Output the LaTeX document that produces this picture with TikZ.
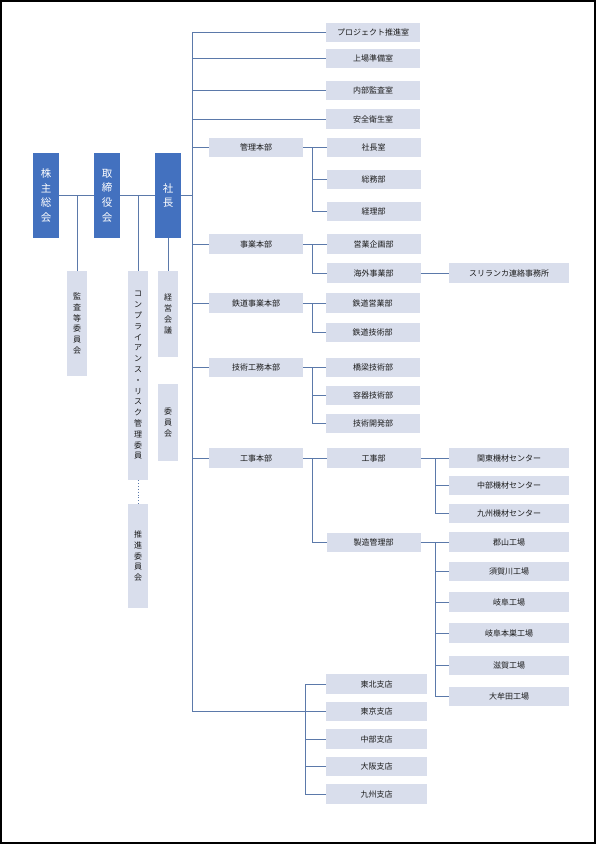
\documentclass[tikz,border=0pt]{standalone}
\usepackage{fontspec}
\newfontfamily\jp{Noto Sans CJK JP}
\definecolor{boxfill}{HTML}{D9DEEC}
\definecolor{topblue}{HTML}{4371BF}
\definecolor{linec}{HTML}{5B79AA}
\definecolor{txt}{HTML}{1A1A1A}
\begin{document}
\begin{tikzpicture}[x=1pt,y=-1pt,
  base/.style={inner sep=0pt, outer sep=0pt, align=center},
  topbox/.style={base, fill=topblue, text=white, minimum width=26pt, minimum height=85pt,
    font={\jp\fontsize{10.5}{14.6}\selectfont}},
  vbox/.style={base, fill=boxfill, text=txt, minimum width=20pt,
    font={\jp\fontsize{8}{10.8}\selectfont}},
  hbox/.style={base, fill=boxfill, text=txt, minimum height=19.5pt,
    font={\jp\fontsize{8}{9}\selectfont}},
  midbox/.style={hbox, minimum width=94pt},
  widebox/.style={hbox, minimum width=120pt},
  shitenbox/.style={hbox, minimum width=101pt},
  conn/.style={draw=linec, line width=0.9pt},
  dotconn/.style={draw=linec, line width=0.9pt, dotted}
]
\useasboundingbox (0,0) rectangle (597,844);
\draw[black, line width=1.5pt] (0.8,0.8) rectangle (595,843);

% top level
\node[topbox] (kabu) at (46,195.5) {株\\主\\総\\会};
\node[topbox] (tori) at (107,195.5) {取\\締\\役\\会};
\node[topbox] (sha) at (168,195.5) {社\\長};

% vertical boxes
\node[vbox, minimum height=105pt] (kansa) at (77,323.5) {監\\査\\等\\委\\員\\会};
\node[vbox, minimum height=209pt] (comp) at (138,375.5) {コ\\ン\\プ\\ラ\\イ\\ア\\ン\\ス\\・\\リ\\ス\\ク\\管\\理\\委\\員};
\node[vbox, minimum height=104pt] (suishin) at (138,556) {推\\進\\委\\員\\会};
\node[vbox, minimum height=86pt] (keiei) at (168,314) {経\\営\\会\\議};
\node[vbox, minimum height=77pt] (iinkai) at (168,422.5) {委\\員\\会};

% offices
\node[midbox] (proj) at (373,32.5) {プロジェクト推進室};
\node[midbox] (jojo) at (373,58.5) {上場準備室};
\node[midbox] (naibu) at (373,90.5) {内部監査室};
\node[midbox] (anzen) at (373,119) {安全衛生室};

% honbu
\node[midbox] (kanri) at (256,147.5) {管理本部};
\node[midbox] (jigyo) at (256,244) {事業本部};
\node[midbox] (tetsudo) at (256,303) {鉄道事業本部};
\node[midbox] (gijutsu) at (256,367.5) {技術工務本部};
\node[midbox] (koji) at (256,458) {工事本部};

% departments
\node[midbox] (shachoshitsu) at (373.5,147.5) {社長室};
\node[midbox] (somu) at (373.5,179.5) {総務部};
\node[midbox] (keiri) at (373.5,211.5) {経理部};
\node[midbox] (eigyo) at (373.5,244) {営業企画部};
\node[midbox] (kaigai) at (373.5,273) {海外事業部};
\node[midbox] (tetsueigyo) at (372.5,303) {鉄道営業部};
\node[midbox] (tetsugijutsu) at (372.5,332.5) {鉄道技術部};
\node[midbox] (kyoryo) at (373,367.5) {橋梁技術部};
\node[midbox] (yoki) at (373,395.5) {容器技術部};
\node[midbox] (kaihatsu) at (373,423.5) {技術開発部};
\node[midbox] (kojibu) at (373.5,458) {工事部};
\node[midbox] (seizo) at (373.5,542.5) {製造管理部};

% right column
\node[widebox] (srilanka) at (509,273) {スリランカ連絡事務所};
\node[widebox] (kanto) at (509,458) {関東機材センター};
\node[widebox] (chubu) at (509,485.5) {中部機材センター};
\node[widebox] (kyushu) at (509,513.5) {九州機材センター};
\node[widebox] (koriyama) at (509,542) {郡山工場};
\node[widebox] (sukagawa) at (509,571.5) {須賀川工場};
\node[widebox] (gifu) at (509,602) {岐阜工場};
\node[widebox] (motosu) at (509,633) {岐阜本巣工場};
\node[widebox] (shiga) at (509,665.5) {滋賀工場};
\node[widebox] (omuta) at (509,696.5) {大牟田工場};

% branches
\node[shitenbox] (tohoku) at (376.5,684) {東北支店};
\node[shitenbox] (tokyo) at (376.5,711.5) {東京支店};
\node[shitenbox] (chubushiten) at (376.5,739) {中部支店};
\node[shitenbox] (osaka) at (376.5,766.5) {大阪支店};
\node[shitenbox] (kyushushiten) at (376.5,794) {九州支店};

% branch coordinates
\coordinate (trunkTop) at (192,32.5);
\coordinate (trunkBot) at (192,711.5);
\coordinate (bxA) at (312.5,0);
\coordinate (bxB) at (435,0);
\coordinate (bxC) at (305,0);

% connectors: top level
\draw[conn] (kabu) -- (tori);
\draw[conn] (tori) -- (sha);
\draw[conn] (sha.east) -- (sha.east -| trunkTop);
\draw[conn] (kansa.north) -- (kansa.north |- kabu.east);
\draw[conn] (comp.north) -- (comp.north |- tori.east);
\draw[dotconn] (comp.south) -- (suishin.north);
\draw[conn] (sha.south) -- (keiei.north);

% trunk
\draw[conn] (proj.west) -- (trunkTop) -- (trunkBot) -- (tokyo.west);
\foreach \n in {jojo,naibu,anzen,kanri,jigyo,tetsudo,gijutsu,koji}
  \draw[conn] (\n.west -| trunkTop) -- (\n.west);

% kanri
\draw[conn] (kanri.east) -- (shachoshitsu.west);
\draw[conn] (kanri.east -| bxA) |- (somu.west);
\draw[conn] (kanri.east -| bxA) |- (keiri.west);
% jigyo
\draw[conn] (jigyo.east) -- (eigyo.west);
\draw[conn] (jigyo.east -| bxA) |- (kaigai.west);
\draw[conn] (kaigai) -- (srilanka);
% tetsudo
\draw[conn] (tetsudo.east) -- (tetsueigyo.west);
\draw[conn] (tetsudo.east -| bxA) |- (tetsugijutsu.west);
% gijutsu
\draw[conn] (gijutsu.east) -- (kyoryo.west);
\draw[conn] (gijutsu.east -| bxA) |- (yoki.west);
\draw[conn] (gijutsu.east -| bxA) |- (kaihatsu.west);
% koji
\draw[conn] (koji.east) -- (kojibu.west);
\draw[conn] (koji.east -| bxA) |- (seizo.west);
\draw[conn] (kojibu.east) -- (kanto.west);
\draw[conn] (kojibu.east -| bxB) |- (chubu.west);
\draw[conn] (kojibu.east -| bxB) |- (kyushu.west);
\draw[conn] (seizo.east) -- (koriyama.west |- seizo.east);
\foreach \n in {sukagawa,gifu,motosu,shiga,omuta}
  \draw[conn] (seizo.east -| bxB) |- (\n.west);
% branches
\draw[conn] (tohoku.west -| bxC) -- (kyushushiten.west -| bxC);
\foreach \n in {tohoku,chubushiten,osaka,kyushushiten}
  \draw[conn] (\n.west -| bxC) -- (\n.west);
\end{tikzpicture}
\end{document}
